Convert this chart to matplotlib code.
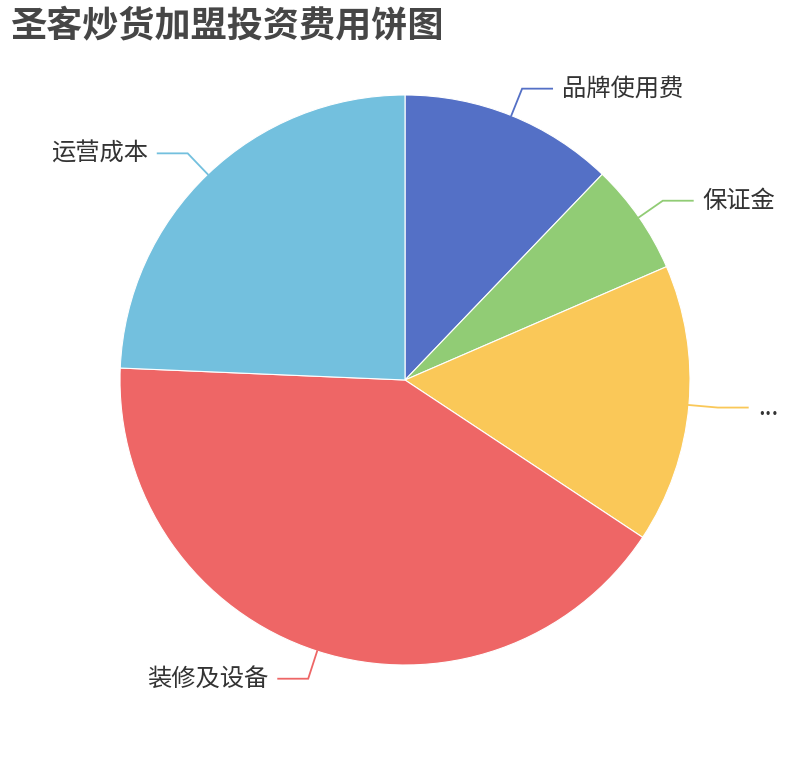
import numpy as np
import matplotlib
matplotlib.use("Agg")
import matplotlib.pyplot as plt
from matplotlib.patches import Wedge

plt.rcParams['font.family'] = ['Noto Sans CJK SC', 'DejaVu Sans']

title = "圣客炒货加盟投资费用饼图"
categories = ["品牌使用费", "保证金", "...", "装修及设备", "运营成本"]
values = [5.0, 2.6, 6.5, 17.0, 10.0]
colors = ["#5470c6", "#91cc75", "#fac858", "#ee6666", "#73c0de"]

W, H = 810, 760
fig = plt.figure(figsize=(W / 100, H / 100), dpi=100)
ax = fig.add_axes([0, 0, 1, 1])
ax.set_xlim(0, W)
ax.set_ylim(H, 0)
ax.set_aspect('equal')
ax.axis('off')

cx, cy, R = 405, 380, 285
total = sum(values)
start = 0.0  # degrees clockwise from top
for name, v, c in zip(categories, values, colors):
    span = v / total * 360
    t1 = start - 90
    t2 = start + span - 90
    ax.add_patch(Wedge((cx, cy), R, t1, t2, facecolor=c, edgecolor='white', linewidth=0.8))
    mid = np.deg2rad(start + span / 2)
    sx, sy = np.sin(mid), -np.cos(mid)
    p0 = (cx + R * sx, cy + R * sy)
    p1 = (cx + (R + 29) * sx, cy + (R + 29) * sy)
    d = 1 if sx >= 0 else -1
    p2 = (p1[0] + d * 30, p1[1])
    ax.plot([p0[0], p1[0], p2[0]], [p0[1], p1[1], p2[1]], color=c, lw=1.3,
            solid_joinstyle='miter')
    ax.text(p2[0] + d * 10, p2[1], name, ha='left' if d > 0 else 'right',
            va='center', fontsize=17.5, color='#333333')
    start += span

fig.text(10 / W, 1 - 26 / H, title, fontsize=26, fontweight='bold',
         color='#464646', ha='left', va='center')

fig.savefig("out.png", dpi=100, facecolor='white')
